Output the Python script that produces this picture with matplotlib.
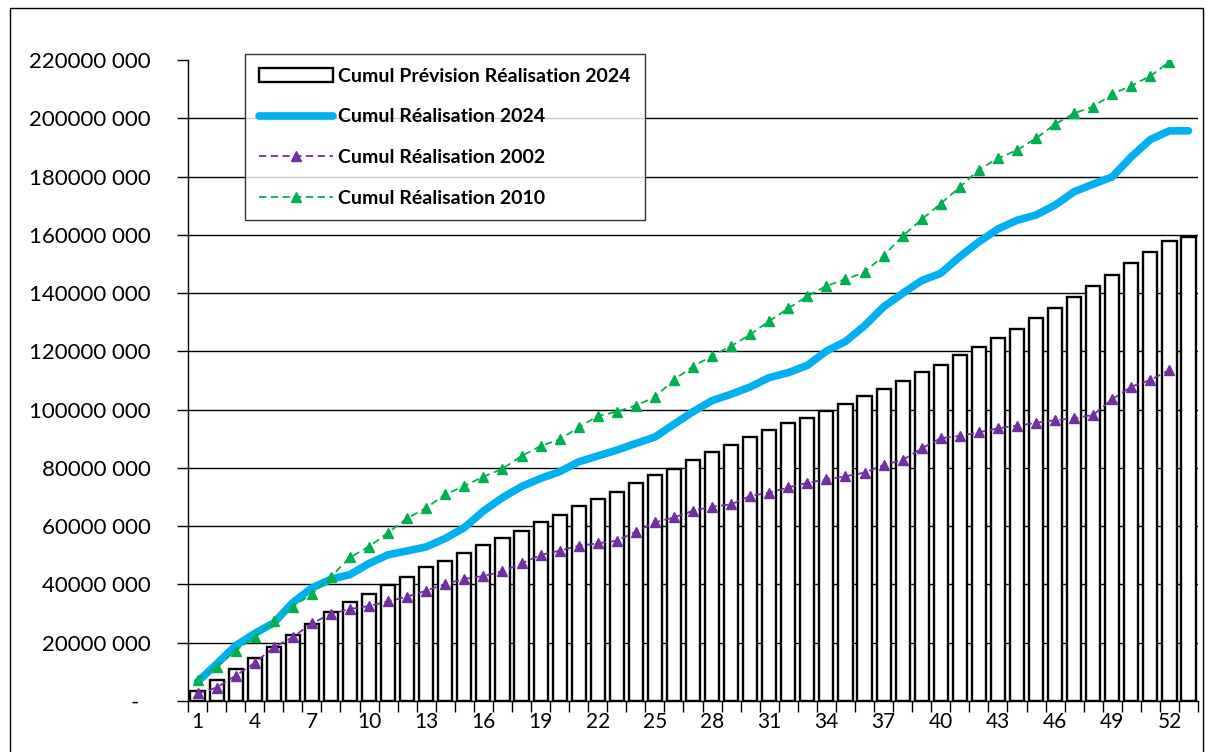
import numpy as np
import matplotlib
matplotlib.use("Agg")
from matplotlib import pyplot as plt
from matplotlib.patches import Rectangle
from matplotlib.ticker import FuncFormatter, FixedLocator

plt.rcParams["font.family"] = ["Lato", "DejaVu Sans"]

# weekly cumulative values, in millions
weeks = list(range(1, 54))
prevision_2024 = [3.3, 7.3, 11.0, 14.9, 18.6, 22.5, 26.5, 30.4, 33.9, 36.7,
                  39.7, 42.6, 45.9, 48.2, 50.8, 53.5, 56.0, 58.5, 61.3, 64.0,
                  66.8, 69.5, 71.9, 74.7, 77.4, 79.8, 82.6, 85.4, 87.7, 90.5,
                  92.9, 95.3, 97.3, 99.7, 102.0, 104.8, 107.0, 110.0, 112.8, 115.4,
                  118.6, 121.4, 124.5, 127.6, 131.4, 134.8, 138.5, 142.3, 146.2, 150.2,
                  154.1, 158.0, 159.4]
realisation_2024 = [6.6, 12.7, 19.0, 23.2, 26.8, 33.8, 38.8, 41.8, 43.4, 47.2,
                    50.2, 51.5, 52.9, 55.8, 59.5, 65.2, 69.8, 73.6, 76.4, 78.7,
                    82.1, 84.1, 86.1, 88.4, 90.6, 95.0, 99.3, 103.1, 105.3, 107.8,
                    111.0, 112.7, 115.2, 120.1, 123.4, 128.8, 135.3, 139.9, 144.3, 146.8,
                    152.5, 157.6, 162.0, 165.0, 166.8, 170.2, 174.8, 177.4, 179.9, 186.8,
                    192.7, 195.7, 195.7]
realisation_2002 = [2.6, 4.6, 8.7, 13.1, 18.4, 21.9, 26.7, 29.9, 31.6, 32.6,
                    34.2, 35.8, 37.9, 40.2, 41.9, 42.9, 44.5, 47.2, 50.1, 51.6,
                    53.3, 54.1, 55.0, 58.1, 61.3, 63.0, 65.3, 66.7, 67.5, 70.4,
                    71.5, 73.3, 74.9, 76.1, 77.1, 78.4, 81.0, 82.7, 86.7, 90.2,
                    91.0, 92.2, 93.6, 94.5, 95.5, 96.4, 97.0, 98.2, 103.6, 107.9,
                    110.2, 113.6]
realisation_2010 = [7.2, 11.8, 17.3, 21.9, 27.6, 32.4, 36.7, 42.7, 49.3, 53.0,
                    57.8, 62.7, 66.3, 70.9, 73.8, 77.0, 79.7, 84.1, 87.5, 89.8,
                    93.9, 97.8, 99.3, 101.4, 104.3, 110.3, 114.8, 118.5, 121.8, 125.8,
                    130.4, 134.8, 138.9, 142.5, 144.7, 147.2, 152.8, 159.6, 165.3, 170.7,
                    176.4, 182.4, 186.2, 189.1, 193.1, 198.0, 201.7, 204.0, 208.3, 211.2,
                    214.5, 219.4]
tick_weeks = list(range(1, 54, 3))


def fmt_y(v, pos):
    if v == 0:
        return "-  "
    v = int(round(v))
    return f"{v // 1000} {v % 1000:03d}"


def main():
    fig = plt.figure(figsize=(12.06, 7.52), dpi=100)
    ax = fig.add_axes([0.1559, 0.0678, 0.8375, 0.8524])

    m = 1e6
    bars = ax.bar(weeks, np.array(prevision_2024) * m, width=0.74, color="white",
                  edgecolor="black", linewidth=1.7, label="Cumul Prévision Réalisation 2024", zorder=2)
    l24, = ax.plot(weeks, np.array(realisation_2024) * m, color="#00B0F0", linewidth=5.5,
                   solid_capstyle="round", solid_joinstyle="round",
                   label="Cumul Réalisation 2024", zorder=3)
    l02, = ax.plot(weeks[:len(realisation_2002)], np.array(realisation_2002) * m, color="#7030A0",
                   linewidth=1.3, linestyle=(0, (4, 2.5)), marker="^", markersize=6.5,
                   label="Cumul Réalisation 2002", zorder=4)
    l10, = ax.plot(weeks[:len(realisation_2010)], np.array(realisation_2010) * m, color="#00B050",
                   linewidth=1.3, linestyle=(0, (4, 2.5)), marker="^", markersize=6.5,
                   label="Cumul Réalisation 2010", zorder=4)

    # axes
    ax.set_xlim(0.5, 53.5)
    ax.set_ylim(0, 220e6)
    ax.set_yticks(np.arange(0, 220e6 + 1, 20e6))
    ax.yaxis.set_major_formatter(FuncFormatter(fmt_y))
    ax.set_xticks(tick_weeks)
    ax.set_xticklabels([str(w) for w in tick_weeks])
    ax.xaxis.set_minor_locator(FixedLocator(np.arange(0.5, 54, 1)))
    ax.tick_params(axis="x", which="major", length=0, pad=8, labelsize=15)
    ax.tick_params(axis="x", which="minor", length=8, width=1, direction="out")
    ax.tick_params(axis="y", length=8, width=1, pad=19, labelsize=16)

    ax.yaxis.grid(True, color="black", linewidth=1)
    ax.set_axisbelow(True)
    ax.get_ygridlines()[-1].set_visible(False)
    for s in ["top", "right"]:
        ax.spines[s].set_visible(False)
    for s in ["left", "bottom"]:
        ax.spines[s].set_linewidth(1)

    handles = [bars, l24, l02, l10]
    leg = fig.legend(handles, [h.get_label() for h in handles],
                     loc="upper left", bbox_to_anchor=(0.2032, 0.9282), borderaxespad=0,
                     frameon=True, fancybox=False, edgecolor="black", numpoints=1,
                     prop={"weight": "bold", "size": 14}, handlelength=3.8,
                     labelspacing=1.22, borderpad=0.7, handletextpad=0.3)
    leg.get_frame().set_linewidth(1)

    # outer chart border
    fig.patches.append(Rectangle((10 / 1206, -0.1), 1193 / 1206, 1.1 - 8 / 752,
                                 transform=fig.transFigure, fill=False,
                                 edgecolor="black", linewidth=1))

    fig.savefig("out.png", dpi=100)


if __name__ == "__main__":
    main()
